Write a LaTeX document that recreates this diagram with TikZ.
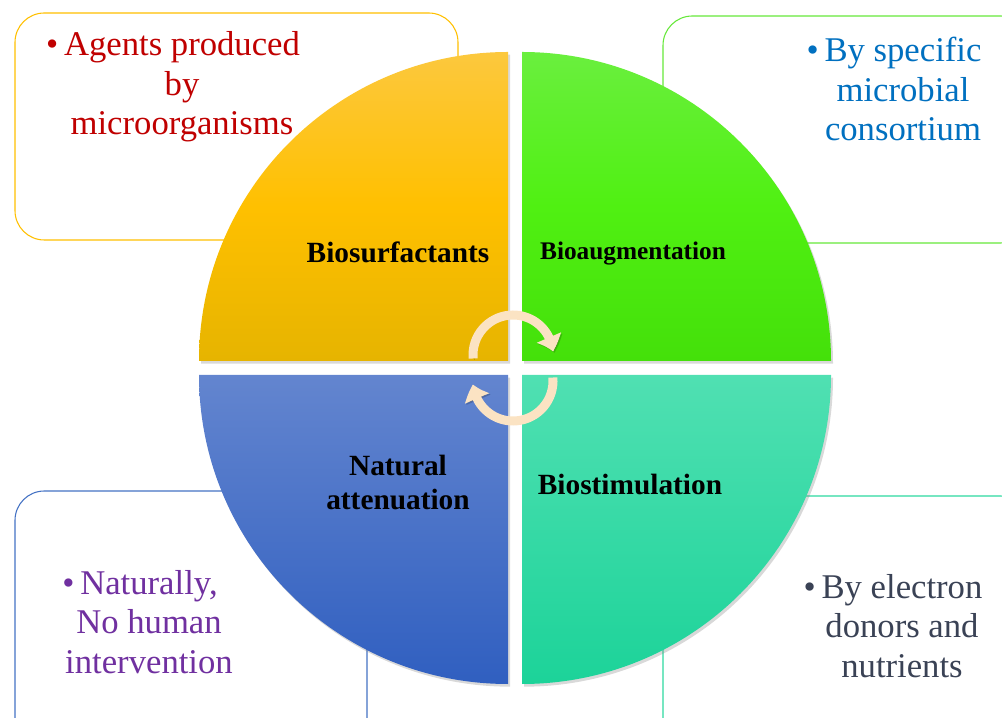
\documentclass[tikz,border=0pt]{standalone}
\usepackage{fontspec}
\setmainfont{Liberation Serif}
\usetikzlibrary{arrows.meta,bending,shadows}

\definecolor{surfline}{HTML}{FFC000}
\definecolor{surftop}{HTML}{FCC83E}
\definecolor{surfmid}{HTML}{FFC000}
\definecolor{surfbot}{HTML}{E6B400}
\definecolor{surftext}{HTML}{C00000}
\definecolor{augline}{HTML}{66E83A}
\definecolor{augtop}{HTML}{6AEF3E}
\definecolor{augmid}{HTML}{50F012}
\definecolor{augbot}{HTML}{44E00A}
\definecolor{augtext}{HTML}{0070C0}
\definecolor{natline}{HTML}{4472C4}
\definecolor{nattop}{HTML}{6385CF}
\definecolor{natbot}{HTML}{305FC0}
\definecolor{nattext}{HTML}{7030A0}
\definecolor{stimline}{HTML}{2ED9A0}
\definecolor{stimtop}{HTML}{50E0B2}
\definecolor{stimbot}{HTML}{1CD399}
\definecolor{stimtext}{HTML}{3A4255}
\definecolor{cyclecream}{HTML}{FBE3C3}

\begin{document}
\begin{tikzpicture}[x=0.75pt, y=0.75pt,
    infobox/.style={rounded corners=22pt, line width=0.8pt, fill=white},
    infotext/.style={align=center, font=\fontsize{26}{29.5}\selectfont},
    sector/.style={drop shadow={opacity=0.3, shadow xshift=1.5pt, shadow yshift=-2pt}},
    sectortext/.style={align=center, font=\fontsize{22}{25.5}\selectfont\bfseries},
    cyclearrow/.style={line width=6.75pt, draw=cyclecream,
        preaction={draw=black, draw opacity=0.18, transform canvas={xshift=1pt, yshift=-1pt}},
        -{Triangle[length=11pt, width=19pt, bend]}}]
    \useasboundingbox (0,0) rectangle (1002,717);

    % boxes behind the circle
    \begin{scope}
        \clip (0,0) rectangle (1002,717);
        \draw[infobox, draw=surfline] (15,477) rectangle (458,704);
        \draw[infobox, draw=augline] (663,474) rectangle (1030,701);
        \draw[infobox, draw=natline] (15,-30) rectangle (367,226);
        \draw[infobox, draw=stimline] (663,-30) rectangle (1030,221);
    \end{scope}

    % quarters
    \shade[sector, top color=surftop, bottom color=surfbot, middle color=surfmid]
        (508,356) -- (199,356) arc[start angle=180, end angle=90, radius=231.75pt] -- cycle;
    \shade[sector, top color=augtop, bottom color=augbot, middle color=augmid]
        (522,356) -- (831,356) arc[start angle=0, end angle=90, radius=231.75pt] -- cycle;
    \shade[sector, top color=nattop, bottom color=natbot]
        (508,342) -- (199,342) arc[start angle=180, end angle=270, radius=231.75pt] -- cycle;
    \shade[sector, top color=stimtop, bottom color=stimbot]
        (522,342) -- (831,342) arc[start angle=0, end angle=-90, radius=231.75pt] -- cycle;

    \node[sectortext] (biosurf) at (398,465) {Biosurfactants};
    \node[sectortext, font=\fontsize{19}{22}\selectfont\bfseries] (bioaug) at (633,463) {Bioaugmentation};
    \node[sectortext] (natatt) at (398,234) {Natural\\attenuation};
    \node[sectortext] (biostim) at (630,232) {Biostimulation};

    % notes
    \node[infotext, text=surftext] (surfnote) at (182,630) {\llap{\textbullet\,}Agents produced\\by\\microorganisms};
    \node[infotext, text=augtext] (augnote) at (903,628) {\llap{\textbullet\,}By specific\\microbial\\consortium};
    \node[infotext, text=nattext] (natnote) at (149,95) {\llap{\textbullet\,}Naturally,\\No human\\intervention};
    \node[infotext, text=stimtext] (stimnote) at (902,91) {\llap{\textbullet\,}By electron\\donors and\\nutrients};

    % cycle arrows
    \coordinate (cyctop) at ([shift={(513,362)}]185:30pt);
    \coordinate (cycbot) at ([shift={(513,336)}]5:30pt);
    \draw[cyclearrow] (cyctop) arc[start angle=185, end angle=5, radius=30pt];
    \draw[cyclearrow] (cycbot) arc[start angle=5, end angle=-175, radius=30pt];
\end{tikzpicture}
\end{document}
